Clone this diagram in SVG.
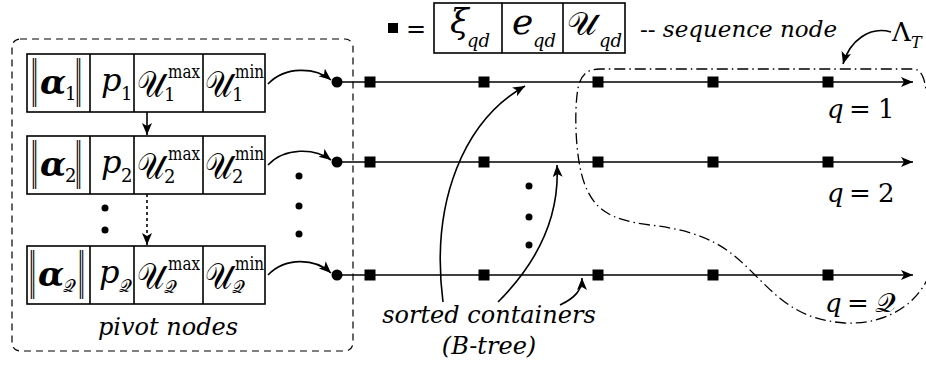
<svg xmlns="http://www.w3.org/2000/svg" width="926" height="366" viewBox="0 0 926 366" font-family="'DejaVu Serif', serif">
<style>
text{font-family:'DejaVu Serif', serif;fill:#000}
.cell{fill:none;stroke:#000;stroke-width:1.6}
.it{font-style:italic}
.al{font-size:34px;font-style:italic;font-weight:bold}
.p{font-size:32px;font-style:italic}
.sub{font-size:18px}
.bar{font-size:48px;opacity:0.999}
.U{font-size:36px}
.sq2{opacity:0.999}
.lbl{font-style:italic;font-size:24px}
.q{font-size:26px}
.ln{stroke:#000;stroke-width:1.6;fill:none}
.sq{fill:#000}
</style>
<defs>
<marker id="ah" markerUnits="userSpaceOnUse" markerWidth="14" markerHeight="12" refX="12" refY="5" orient="auto">
<path d="M0,0 L12,5 L0,10 L3,5 z" fill="#000"/>
</marker>
</defs>

<g id="pivot-frame">
<rect x="12" y="39" width="341" height="312" rx="8" fill="none" stroke="#000" stroke-width="1.2" stroke-dasharray="7,5"/>
<text class="lbl" x="168" y="335" text-anchor="middle">pivot nodes</text>
</g>

<g id="pivot1" transform="translate(0,54)">
<rect class="cell" x="27" y="0" width="238" height="58"/>
<path class="cell" d="M90,0V58M134,0V58M203,0V58"/>
<text class="bar" x="31" y="42" textLength="7" lengthAdjust="spacingAndGlyphs">‖</text>
<text class="al" x="40" y="40">α</text>
<text class="sub" x="65" y="46">1</text>
<text class="bar" x="75" y="42" textLength="7" lengthAdjust="spacingAndGlyphs">‖</text>
<text class="p" x="101" y="37">p</text>
<text class="sub" x="121" y="46">1</text>
<text class="U sq2" x="137" y="43" textLength="27" lengthAdjust="spacingAndGlyphs">𝒰</text>
<text class="sub" x="168" y="24" textLength="32" lengthAdjust="spacingAndGlyphs">max</text>
<text class="sub" x="164" y="47">1</text>
<text class="U sq2" x="205" y="43" textLength="27" lengthAdjust="spacingAndGlyphs">𝒰</text>
<text class="sub" x="235" y="24" textLength="29" lengthAdjust="spacingAndGlyphs">min</text>
<text class="sub" x="232" y="47">1</text>
</g>

<g id="pivot2" transform="translate(0,136)">
<rect class="cell" x="27" y="0" width="238" height="58"/>
<path class="cell" d="M90,0V58M134,0V58M203,0V58"/>
<text class="bar" x="31" y="42" textLength="7" lengthAdjust="spacingAndGlyphs">‖</text>
<text class="al" x="40" y="40">α</text>
<text class="sub" x="65" y="46">2</text>
<text class="bar" x="75" y="42" textLength="7" lengthAdjust="spacingAndGlyphs">‖</text>
<text class="p" x="101" y="37">p</text>
<text class="sub" x="121" y="46">2</text>
<text class="U sq2" x="137" y="43" textLength="27" lengthAdjust="spacingAndGlyphs">𝒰</text>
<text class="sub" x="168" y="24" textLength="32" lengthAdjust="spacingAndGlyphs">max</text>
<text class="sub" x="164" y="47">2</text>
<text class="U sq2" x="205" y="43" textLength="27" lengthAdjust="spacingAndGlyphs">𝒰</text>
<text class="sub" x="235" y="24" textLength="29" lengthAdjust="spacingAndGlyphs">min</text>
<text class="sub" x="232" y="47">2</text>
</g>

<g id="pivotQ" transform="translate(0,246)">
<rect class="cell" x="27" y="0" width="238" height="58"/>
<path class="cell" d="M90,0V58M134,0V58M203,0V58"/>
<text class="bar" x="29" y="42" textLength="7" lengthAdjust="spacingAndGlyphs">‖</text>
<text class="al" x="38" y="40">α</text>
<text class="sub sq2" x="63" y="46" textLength="13" lengthAdjust="spacingAndGlyphs">𝒬</text>
<text class="bar" x="78" y="42" textLength="7" lengthAdjust="spacingAndGlyphs">‖</text>
<text class="p" x="99" y="37">p</text>
<text class="sub sq2" x="119" y="46" textLength="13" lengthAdjust="spacingAndGlyphs">𝒬</text>
<text class="U sq2" x="137" y="43" textLength="27" lengthAdjust="spacingAndGlyphs">𝒰</text>
<text class="sub" x="168" y="24" textLength="32" lengthAdjust="spacingAndGlyphs">max</text>
<text class="sub sq2" x="164" y="47" textLength="13" lengthAdjust="spacingAndGlyphs">𝒬</text>
<text class="U sq2" x="205" y="43" textLength="27" lengthAdjust="spacingAndGlyphs">𝒰</text>
<text class="sub" x="235" y="24" textLength="29" lengthAdjust="spacingAndGlyphs">min</text>
<text class="sub sq2" x="232" y="47" textLength="13" lengthAdjust="spacingAndGlyphs">𝒬</text>
</g>

<g id="legend">
<rect class="sq" x="388" y="23" width="10" height="10"/>
<text x="406" y="37" font-size="24">=</text>
<rect class="cell" x="434" y="3" width="191" height="50"/>
<path class="cell" d="M502,3V53M563,3V53"/>
<text class="it" x="450" y="33" font-size="34">ξ</text>
<text class="it sub" x="467" y="47">qd</text>
<text class="it" x="512" y="34" font-size="36">e</text>
<text class="it sub" x="533" y="47">qd</text>
<text class="sq2" x="567" y="35" font-size="32" textLength="30" lengthAdjust="spacingAndGlyphs">𝒰</text>
<text class="it sub" x="599" y="47">qd</text>
<text x="640" y="37" font-size="23">-- <tspan font-style="italic">sequence node</tspan></text>
</g>

<g id="seq1">
<circle cx="337" cy="82" r="5.5"/>
<rect class="sq" x="364.5" y="76.5" width="11" height="11"/>
<rect class="sq" x="478.5" y="76.5" width="11" height="11"/>
<rect class="sq" x="592.5" y="76.5" width="11" height="11"/>
<rect class="sq" x="707.5" y="76.5" width="11" height="11"/>
<rect class="sq" x="822.5" y="76.5" width="11" height="11"/>
<text class="q" y="118"><tspan class="it" x="827">q</tspan><tspan x="849">=</tspan><tspan x="878">1</tspan></text>
</g>
<g id="seq2">
<circle cx="337" cy="162" r="5.5"/>
<rect class="sq" x="364.5" y="156.5" width="11" height="11"/>
<rect class="sq" x="478.5" y="156.5" width="11" height="11"/>
<rect class="sq" x="592.5" y="156.5" width="11" height="11"/>
<rect class="sq" x="707.5" y="156.5" width="11" height="11"/>
<rect class="sq" x="822.5" y="156.5" width="11" height="11"/>
<text class="q" y="202"><tspan class="it" x="827">q</tspan><tspan x="849">=</tspan><tspan x="878">2</tspan></text>
</g>
<g id="seqQ">
<circle cx="337" cy="275" r="5.5"/>
<rect class="sq" x="364.5" y="269.5" width="11" height="11"/>
<rect class="sq" x="478.5" y="269.5" width="11" height="11"/>
<rect class="sq" x="592.5" y="269.5" width="11" height="11"/>
<rect class="sq" x="707.5" y="269.5" width="11" height="11"/>
<rect class="sq" x="822.5" y="269.5" width="11" height="11"/>
<text class="q" y="312"><tspan class="it" x="825">q</tspan><tspan x="847">=</tspan></text>
<text class="sq2" x="875" y="312" font-size="26" textLength="21" lengthAdjust="spacingAndGlyphs">𝒬</text>
</g>

<g id="ellipsis">
<circle cx="105" cy="208" r="3.5"/><circle cx="105" cy="230" r="3.5"/>
<circle cx="299" cy="176" r="3.5"/><circle cx="299" cy="206" r="3.5"/><circle cx="299" cy="234" r="3.5"/>
<circle cx="529" cy="186" r="3.5"/><circle cx="529" cy="217" r="3.5"/><circle cx="529" cy="245" r="3.5"/>
</g>

<g id="labels">
<text class="lbl" x="489" y="323" text-anchor="middle">sorted containers</text>
<text class="lbl" x="489" y="354" text-anchor="middle">(B-tree)</text>
<text x="892" y="41" font-size="26">Λ</text>
<text class="it" x="911" y="48" font-size="16">T</text>
</g>

<g id="connectors">
<path class="ln" d="M337,82H913" marker-end="url(#ah)"/>
<path class="ln" d="M337,162H913" marker-end="url(#ah)"/>
<path class="ln" d="M337,275H913" marker-end="url(#ah)"/>
<path class="ln" d="M268,84C285,66 315,67 331,80" marker-end="url(#ah)"/>
<path class="ln" d="M268,165C285,147 315,148 331,160" marker-end="url(#ah)"/>
<path class="ln" d="M268,275C285,257 315,258 331,273" marker-end="url(#ah)"/>
<path class="ln" d="M147,112V135" marker-end="url(#ah)"/>
<path class="ln" d="M147,194V245" stroke-dasharray="3,3" marker-end="url(#ah)"/>
<path class="ln" d="M443,302C430,200 465,120 525,86" marker-end="url(#ah)"/>
<path class="ln" d="M498,302C535,265 560,220 557,165" marker-end="url(#ah)"/>
<path class="ln" d="M560,305C575,298 582,290 582,278" marker-end="url(#ah)"/>
<path class="ln" d="M891,32C870,26 850,40 843,64" marker-end="url(#ah)"/>
<path d="M935,255C928,300 890,325 845,323C800,320 780,300 755,275C730,250 710,232 650,225C610,220 595,210 585,185C575,160 574,110 578,88C581,74 588,69 600,69L912,69C921,69 924,76 926,90" fill="none" stroke="#000" stroke-width="1.3" stroke-dasharray="11,4,1.5,4"/>
</g>
</svg>
